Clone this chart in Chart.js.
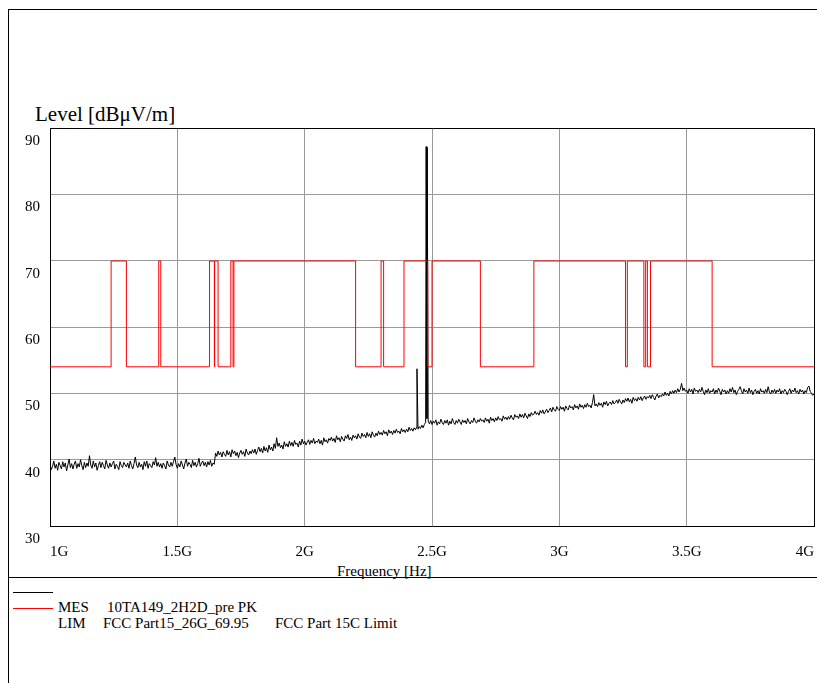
<!DOCTYPE html>
<html>
<head>
<meta charset="utf-8">
<script src="https://cdn.jsdelivr.net/npm/chart.js@4.4.1/dist/chart.umd.min.js"></script>
<style>
  body { margin: 0; background: #fff; font-family: "Liberation Serif", serif; }
  #wrap { position: relative; width: 817px; height: 683px; overflow: hidden; }
  #emcChart { position: absolute; left: 0; top: 0; }
  .rule { position: absolute; background: #000; }
  .txt { position: absolute; font-size: 15px; line-height: 18px; white-space: pre; color: #000; }
  .legline { position: absolute; left: 13px; width: 40px; height: 1px; }
</style>
</head>
<body>
<div id="wrap">
  <div class="rule" style="left:8px;top:9px;width:1px;height:674px"></div>
  <div class="rule" style="left:8px;top:9px;width:809px;height:1px"></div>
  <div class="rule" style="left:8px;top:577px;width:809px;height:1px"></div>
  <div class="txt" style="left:35px;top:102px;font-size:21px;line-height:24px">Level [dBμV/m]</div>
  <div class="txt" style="left:337px;top:562px">Frequency [Hz]</div>
  <div class="legline" style="top:592px;background:#000"></div>
  <div class="legline" style="top:608px;background:#ff0000"></div>
  <div class="txt" style="left:58px;top:598px">MES</div>
  <div class="txt" style="left:107px;top:598px">10TA149_2H2D_pre PK</div>
  <div class="txt" style="left:58px;top:614px">LIM</div>
  <div class="txt" style="left:103px;top:614px">FCC Part15_26G_69.95</div>
  <div class="txt" style="left:275px;top:614px">FCC Part 15C Limit</div>
  <canvas id="emcChart" width="817" height="683"></canvas>
</div>
<script>
// tick labels
const xTickLabels = ['1G', '1.5G', '2G', '2.5G', '3G', '3.5G', '4G'];
const yTickLabels = ['30', '40', '50', '60', '70', '80', '90'];

// MES trace: sweep 1000..4000 MHz in 5 MHz steps (dBuV/m), one row = 50 MHz
const measStartMHz = 1000;
const measStepMHz = 5;
const measLevels = [
  39.4, 38.5, 39.0, 39.8, 38.7, 39.3, 38.4, 39.6, 39.1, 38.6,
  39.7, 38.9, 39.5, 38.3, 39.2, 40.1, 38.8, 39.4, 38.6, 39.3,
  39.8, 38.7, 39.4, 38.9, 40.0, 39.1, 38.5, 39.6, 38.8, 39.5,
  39.0, 40.6, 39.2, 38.7, 39.8, 38.9, 39.5, 38.4, 39.1, 39.7,
  38.8, 39.6, 39.1, 38.6, 39.9, 39.2, 38.7, 39.5, 38.9, 39.4,
  39.8, 38.6, 39.3, 39.0, 38.5, 39.7, 39.1, 38.8, 39.6, 39.2,
  38.9, 39.5, 38.7, 39.8, 39.1, 38.6, 39.4, 40.4, 39.2, 38.8,
  39.6, 38.9, 39.3, 38.5, 39.7, 39.0, 39.8, 38.7, 39.4, 39.1,
  38.8, 39.7, 39.2, 40.3, 39.0, 39.6, 38.9, 39.4, 38.7, 39.5,
  39.1, 38.6, 39.8, 39.2, 38.9, 39.6, 39.0, 39.7, 40.4, 39.3,
  38.7, 39.4, 38.9, 39.8, 39.2, 38.6, 39.5, 40.1, 39.0, 39.6,
  39.3, 38.8, 39.9, 39.1, 39.6, 38.9, 39.4, 40.2, 39.0, 39.5,
  39.8, 39.1, 39.6, 38.9, 39.7, 39.2, 39.9, 39.0, 39.5, 39.3,
  41.0, 40.5, 41.3, 40.7, 41.1, 40.4, 41.2, 40.8, 40.5, 41.4,
  40.7, 41.2, 40.4, 41.5, 40.9, 41.3, 40.6, 41.1, 40.3, 41.0,
  41.4, 40.8, 41.2, 40.5, 41.6, 41.0, 40.7, 41.3, 40.9, 41.5,
  41.0, 41.6, 40.8, 41.4, 41.9, 41.2, 41.7, 41.0, 42.0, 41.3,
  41.8, 41.1, 42.2, 41.5, 41.9, 41.3, 42.4, 41.7, 43.3, 42.0,
  42.5, 41.8, 42.2, 41.6, 42.7, 42.0, 42.4, 41.9, 42.8, 42.1,
  42.6, 42.0, 42.9, 42.3, 42.5, 41.9, 42.8, 42.2, 43.1, 42.4,
  42.8, 42.2, 42.6, 43.0, 42.3, 42.9, 42.5, 43.2, 42.4, 42.8,
  42.6, 43.1, 42.4, 42.9, 42.2, 43.3, 42.7, 43.0, 42.5, 43.2,
  42.9, 43.4, 42.8, 43.2, 42.6, 43.6, 43.0, 43.3, 42.7, 43.5,
  43.1, 42.8, 43.6, 43.2, 43.8, 43.0, 43.4, 42.9, 43.7, 43.3,
  43.6, 43.1, 43.9, 43.4, 43.2, 44.0, 43.5, 43.8, 43.3, 44.1,
  43.5, 43.9, 43.3, 44.2, 43.7, 43.4, 44.0, 43.6, 44.3, 43.8,
  44.1, 43.7, 44.4, 43.9, 44.2, 43.6, 44.5, 44.0, 44.3, 43.8,
  44.4, 44.0, 44.6, 44.1, 44.3, 43.9, 44.7, 44.2, 44.5, 44.1,
  44.6, 44.2, 44.9, 44.4, 44.7, 44.3, 44.8, 44.5, 44.9, 44.6,
  45.0, 44.7, 45.2, 44.8, 45.3, 45.6, 46.2, 45.8, 45.4, 45.9,
  45.3, 45.8, 45.5, 46.0, 45.2, 45.7, 45.4, 46.1, 45.6, 45.3,
  45.9, 45.5, 46.0, 45.2, 45.8, 45.4, 46.2, 45.6, 45.3, 45.9,
  45.5, 46.1, 45.7, 45.3, 46.0, 45.6, 45.9, 45.4, 46.2, 45.7,
  45.4, 45.9, 45.6, 46.3, 45.8, 45.5, 46.0, 45.7, 46.2, 45.8,
  46.0, 45.6, 46.3, 45.8, 46.1, 45.5, 46.4, 45.9, 46.2, 45.7,
  46.3, 45.9, 46.5, 46.0, 46.2, 45.8, 46.6, 46.1, 46.4, 46.0,
  46.5, 46.1, 46.7, 46.3, 46.0, 46.8, 46.4, 46.6, 46.2, 46.9,
  46.4, 46.8, 46.3, 47.0, 46.6, 46.2, 46.9, 46.5, 47.1, 46.7,
  46.9, 47.3, 46.8, 47.1, 46.7, 47.4, 47.0, 47.5, 46.9, 47.2,
  47.6, 47.1, 47.4, 47.8, 47.2, 47.9, 47.5, 47.3, 48.0, 47.6,
  47.4, 48.0, 47.6, 47.9, 47.3, 48.1, 47.7, 47.5, 48.2, 47.8,
  48.0, 47.5, 48.3, 47.8, 48.1, 47.6, 48.4, 47.9, 48.2, 47.7,
  48.3, 47.9, 48.5, 48.0, 48.2, 47.8, 48.6, 49.8, 48.1, 48.4,
  48.0, 48.6, 48.2, 48.5, 47.9, 48.7, 48.3, 48.8, 48.1, 48.5,
  48.7, 48.3, 48.9, 48.4, 48.6, 49.0, 48.5, 49.1, 48.7, 48.4,
  49.0, 48.6, 49.2, 48.8, 49.3, 48.7, 49.1, 48.5, 49.4, 48.9,
  49.2, 48.8, 49.4, 49.0, 49.5, 48.9, 49.3, 49.6, 49.1, 49.5,
  49.3, 49.7, 49.2, 49.8, 49.4, 49.0, 49.6, 49.9, 49.3, 49.7,
  49.5, 49.9, 49.6, 50.2, 49.7, 50.0, 49.6, 50.3, 49.9, 50.4,
  50.0, 50.5, 50.1, 50.7, 50.2, 50.6, 51.5, 50.4, 50.8, 50.3,
  50.5, 50.0, 50.7, 50.2, 50.6, 49.9, 50.8, 50.3, 50.5, 50.1,
  50.6, 50.2, 50.9, 50.3, 49.8, 50.5, 50.1, 50.7, 50.0, 50.4,
  50.2, 50.7, 49.9, 50.5, 50.1, 50.8, 50.3, 49.8, 50.6, 50.2,
  50.5, 49.9, 50.4, 50.0, 50.7, 50.2, 50.9, 50.1, 50.5, 49.8,
  50.3, 50.6, 51.0, 50.4, 49.9, 50.7, 50.2, 50.5, 50.0, 50.8,
  50.1, 50.5, 49.8, 50.3, 50.6, 50.0, 50.4, 49.9, 50.7, 50.2,
  50.4, 50.0, 50.6, 50.1, 51.0, 50.2, 49.9, 50.5, 50.1, 50.6,
  50.0, 50.5, 50.2, 50.7, 49.9, 50.4, 50.1, 50.6, 50.3, 49.8,
  50.3, 50.7, 50.0, 50.5, 50.2, 50.8, 50.1, 50.4, 49.9, 50.6,
  50.2, 50.5, 49.9, 50.4, 50.1, 50.9, 51.1, 50.3, 50.0, 49.7,
  49.9
];
// narrow carrier peaks between sweep points
const spikeFreqs = [2441, 2477, 2481];
const spikeLevels = [53.7, 87.2, 87.0];

// LIM: step limit, each level holds until the next frequency
const limitFreqs = [1000, 1240, 1300, 1427, 1435, 1626.5, 1645.5, 1646.5, 1660, 1710,
  1718.8, 1722.2, 2200, 2300, 2310, 2390, 2483.5, 2500, 2690, 2900,
  3260, 3267, 3332, 3339, 3345.8, 3358, 3600, 4000];
const limitLevels = [54, 69.95, 54, 69.95, 54, 69.95, 54, 69.95, 54, 69.95,
  54, 69.95, 54, 69.95, 54, 69.95, 54, 69.95, 54, 69.95,
  54, 69.95, 54, 69.95, 54, 69.95, 54, 54];

const measPoints = measLevels
  .map((v, i) => ({ x: measStartMHz + i * measStepMHz, y: v }))
  .concat(spikeFreqs.map((f, i) => ({ x: f, y: spikeLevels[i] })))
  .sort((a, b) => a.x - b.x);
const limitPoints = limitFreqs.map((f, i) => ({ x: f, y: limitLevels[i] }));

Chart.defaults.font.family = '"Liberation Serif", "Times New Roman", serif';
Chart.defaults.font.size = 15;
Chart.defaults.color = '#000';

const ctx = document.getElementById('emcChart').getContext('2d');
const gridColor = '#9a9a9a';

new Chart(ctx, {
  type: 'line',
  data: {
    datasets: [
      {
        label: 'LIM',
        data: limitPoints,
        borderColor: '#ff0000',
        borderWidth: 1,
        pointRadius: 0,
        stepped: true,
      },
      {
        label: 'MES',
        data: measPoints,
        borderColor: '#000',
        borderWidth: 1,
        pointRadius: 0,
        tension: 0,
      },
    ],
  },
  options: {
    responsive: false,
    animation: false,
    events: [],
    layout: { padding: { left: 20, top: 128, right: 3, bottom: 93 } },
    plugins: {
      legend: { display: false },
      tooltip: { enabled: false },
    },
    scales: {
      x: {
        type: 'linear',
        position: 'bottom',
        min: 1000,
        max: 4000,
        ticks: {
          stepSize: 500,
          align: 'inner',
          padding: 0,
          maxRotation: 0,
          autoSkip: false,
          callback: (value, index) => xTickLabels[index],
        },
        grid: { color: gridColor, drawTicks: true, tickLength: 17, tickColor: 'rgba(0,0,0,0)' },
        border: { color: '#000' },
        afterFit: (scale) => { scale.height = 64; },
      },
      y: {
        position: 'left',
        min: 30,
        max: 90,
        ticks: {
          stepSize: 10,
          padding: 10,
          labelOffset: 13,
          callback: (value, index) => yTickLabels[index],
        },
        grid: { color: gridColor, drawTicks: false },
        border: { color: '#000' },
        afterFit: (scale) => { scale.width = 30; },
      },
      x2: {
        type: 'linear',
        position: 'top',
        min: 1000,
        max: 4000,
        ticks: { display: false },
        grid: { display: false, drawTicks: false },
        border: { color: '#000' },
        afterFit: (scale) => { scale.height = 0; },
      },
      y2: {
        type: 'linear',
        position: 'right',
        min: 30,
        max: 90,
        ticks: { display: false },
        grid: { display: false, drawTicks: false },
        border: { color: '#000' },
        afterFit: (scale) => { scale.width = 0; },
      },
    },
  },
});
</script>
</body>
</html>
